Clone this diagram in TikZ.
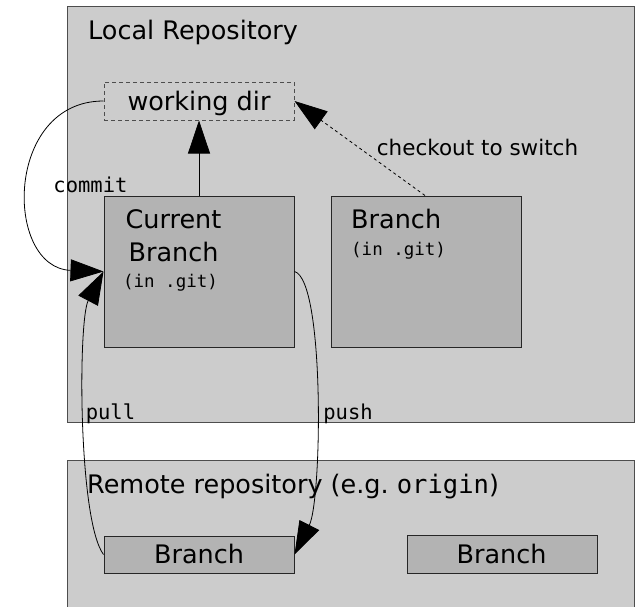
\documentclass[tikz,border=0pt]{standalone}
\usepackage{fontspec}
\setmainfont{DejaVu Sans}
\setsansfont{DejaVu Sans}
\setmonofont{DejaVu Sans Mono}
\usetikzlibrary{arrows.meta}
\definecolor{outerfill}{HTML}{CCCCCC}
\definecolor{innerfill}{HTML}{B3B3B3}
\definecolor{outerline}{HTML}{4D4D4D}
\definecolor{innerline}{HTML}{262626}
\tikzset{
  repobox/.style={draw=outerline, fill=outerfill, line width=1pt, inner sep=0pt},
  branchbox/.style={draw=innerline, fill=innerfill, line width=1pt, inner sep=0pt, minimum width=190pt},
  wdbox/.style={draw=outerline, dash pattern=on 4pt off 3pt, line width=1pt, inner sep=0pt, minimum width=190pt, minimum height=38pt},
  bigtxt/.style={font=\fontsize{25.5}{30}\selectfont, inner sep=0pt},
  monosmall/.style={font=\fontsize{17.5}{20}\selectfont\ttfamily, inner sep=0pt},
  lbl/.style={font=\fontsize{21.5}{24}\selectfont, inner sep=0pt},
  monolbl/.style={font=\fontsize{20.5}{24}\selectfont\ttfamily, inner sep=0pt},
  flow/.style={line width=0.8pt, -{Triangle[length=33pt,width=22pt]}},
}
\begin{document}
\begin{tikzpicture}[x=1pt,y=-1pt]
\clip (0,0) rectangle (639,606);
\fill[white] (0,0) rectangle (639,606);
% repositories
\node[repobox, minimum width=567pt, minimum height=416pt] (local) at (350.5,214) {};
\node[repobox, minimum width=567pt, minimum height=180pt] (remote) at (350.5,550) {};
\node[bigtxt, anchor=base west] (localtitle) at (88,39) {Local Repository};
\node[bigtxt, anchor=base west] (remotetitle) at (87,493) {Remote repository (e.g.\ \texttt{origin})};
% boxes
\node[wdbox] (wd) at (199,101) {};
\node[bigtxt, anchor=base] (wdtxt) at (199,110) {working dir};
\node[branchbox, minimum height=151pt] (cur) at (199,271.5) {};
\node[bigtxt, anchor=base] (curtxt1) at (173.5,228) {Current};
\node[bigtxt, anchor=base] (curtxt2) at (173.5,261) {Branch};
\node[monosmall, anchor=base] (curtxt3) at (170.5,287) {(in .git)};
\node[branchbox, minimum height=151pt] (br) at (426,271.5) {};
\node[bigtxt, anchor=base west] (brtxt1) at (351,228) {Branch};
\node[monosmall, anchor=base west] (brtxt2) at (351,255) {(in .git)};
\node[branchbox, minimum height=37pt] (rb1) at (199,554.5) {};
\node[bigtxt, anchor=base] (rb1txt) at (199,563) {Branch};
\node[branchbox, minimum height=38pt] (rb2) at (502,554) {};
\node[bigtxt, anchor=base] (rb2txt) at (501.5,563) {Branch};
% connectors
\draw[flow] (cur.north) -- (wd.south);
\draw[flow] (wd.west) .. controls (4,101) and (4,268) .. (cur.west);
\draw[flow, dash pattern=on 3pt off 3pt] (br.north -| 425,0) -- (wd.east);
\draw[flow] (rb1.west) .. controls (78,520) and (78,320) .. (cur.west);
\draw[flow] (cur.east) .. controls (325,280) and (322,500) .. (rb1.east);
% labels
\node[monolbl, anchor=base] (commitlbl) at (90.5,192) {commit};
\node[lbl, anchor=base] (checklbl) at (477.5,155) {checkout to switch};
\node[monolbl, anchor=base] (pulllbl) at (110.5,419) {pull};
\node[monolbl, anchor=base] (pushlbl) at (348,419) {push};
\end{tikzpicture}
\end{document}
